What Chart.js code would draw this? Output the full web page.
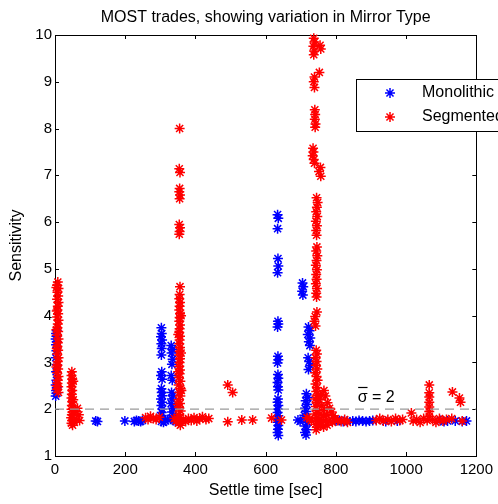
<!DOCTYPE html>
<html>
<head>
<meta charset="utf-8">
<script src="https://cdn.jsdelivr.net/npm/chart.js@4/dist/chart.umd.min.js"></script>
<style>
  html, body { margin: 0; padding: 0; background: #fff; }
  canvas { display: block; }
</style>
</head>
<body>
<canvas id="c" width="498" height="504"></canvas>
<script>
// Settle time [sec] vs. sensitivity for each MOST trade, split by mirror type.
const seriesNames = ['Monolithic', 'Segmented'];

const monolithicTrades = [
  [2,2.28],[4,2.34],[3,2.40],[5,2.46],[2,2.52],[4,2.62],[3,2.80],[5,2.95],[2,3.10],[4,3.25],
  [3,3.38],[5,3.44],[2,3.50],[4,3.56],[3,3.62],[5,3.68],
  [116,1.75],[121,1.74],
  [199,1.75],[226,1.74],[232,1.76],[238,1.75],[244,1.74],[249,1.76],
  [303,3.74],[304,3.62],[302,3.55],[305,3.48],[303,3.40],[304,3.30],[303,3.16],[304,2.80],[302,2.72],[305,2.64],
  [303,2.44],[304,2.36],[306,2.29],[302,2.22],[305,2.15],[303,2.08],[306,2.00],[304,1.93],[302,1.86],[307,1.80],
  [303,1.74],[309,1.72],[315,1.75],[320,1.78],
  [331,3.36],[334,3.28],[332,3.20],[335,3.07],[333,2.96],[331,2.72],[334,2.62],[332,2.36],[336,2.30],[333,2.22],
  [331,2.12],[335,2.02],[333,1.94],[336,1.86],[332,1.80],[338,1.76],[343,1.74],
  [634,6.16],[636,6.08],[634,5.86],[635,5.22],[636,5.06],[634,4.92],[635,3.88],[636,3.82],[634,3.76],[635,3.13],
  [636,3.06],[634,2.99],[635,2.74],[636,2.66],[634,2.57],[635,2.48],[636,2.41],[635,2.22],[634,2.15],[636,2.08],
  [635,2.00],[634,1.93],[636,1.86],[635,1.79],[634,1.72],[636,1.65],[635,1.57],[634,1.50],[636,1.44],
  [692,1.77],[698,1.74],
  [705,4.70],[707,4.62],[704,4.52],[706,4.44],
  [722,3.76],[725,3.68],[720,3.60],[727,3.52],[723,3.44],[726,3.36],[721,3.10],[724,3.02],[727,2.93],[722,2.85],
  [716,2.33],[720,2.25],[714,2.18],[718,2.10],[712,2.02],[716,1.95],[710,1.87],[714,1.80],[719,1.72],[713,1.64],
  [717,1.56],[712,1.50],[715,1.45],
  [800,1.75],[810,1.76],[821,1.74],[832,1.75],
  [848,1.75],[857,1.74],[866,1.76],[876,1.75],[886,1.74],[896,1.75],[905,1.76],
  [942,1.74],[975,1.75],[1098,1.76],[1108,1.74],[1118,1.75],[1140,1.75],[1160,1.74],[1172,1.75]
];

const segmentedTrades = [
  [8,4.72],[6,4.65],[10,4.58],[7,4.50],[9,4.42],[6,4.35],[10,4.28],[8,4.20],[7,4.12],[9,4.04],
  [6,3.97],[10,3.90],[8,3.82],[7,3.74],[9,3.66],[6,3.58],[10,3.50],[8,3.42],[7,3.34],[9,3.26],
  [6,3.18],[10,3.10],[8,3.02],[7,2.94],[9,2.86],[6,2.78],[10,2.70],[8,2.62],[7,2.55],[9,2.48],
  [6,2.42],[10,2.36],[4,4.60],[5,4.10],[4,3.70],[5,3.30],[4,2.90],[5,2.50],
  [48,2.80],[47,2.72],[49,2.64],[48,2.56],[47,2.48],[49,2.40],[48,2.32],[47,2.24],[49,2.16],[48,2.08],
  [47,2.00],[50,1.94],[48,1.88],[46,1.82],[49,1.76],[47,1.70],[50,1.66],[58,1.95],[64,2.02],[68,1.88],
  [62,1.78],[70,1.76],[55,1.72],[52,2.60],[52,2.20],[54,1.90],
  [258,1.82],[265,1.78],[272,1.85],[280,1.80],[288,1.78],[297,1.83],
  [355,8.00],[354,7.14],[356,7.06],[355,6.72],[354,6.65],[356,6.58],[355,6.50],[354,5.95],[356,5.88],[355,5.80],
  [354,5.74],[356,4.62],[355,4.45],[354,4.36],[356,4.28],[355,4.20],[354,4.12],[356,4.04],[355,3.96],[354,3.88],
  [356,3.80],[355,3.72],[354,3.64],[356,3.56],[355,3.48],[354,3.40],[356,3.32],[355,3.24],[354,3.16],[356,3.08],
  [355,3.00],[354,2.92],[356,2.84],[355,2.76],[353,2.68],[357,2.60],[352,2.52],[358,2.44],[354,2.36],[357,2.28],
  [352,2.20],[356,2.12],[353,2.04],[358,1.96],[351,1.88],[356,1.82],[360,1.76],[352,1.70],[357,1.66],[365,1.78],
  [372,1.74],[380,1.80],[388,1.76],[396,1.82],[404,1.75],[412,1.80],[420,1.84],[430,1.78],[438,1.80],[345,1.75],
  [340,1.80],[359,4.00],[351,3.60],[359,3.20],[351,2.80],[360,2.40],[350,2.10],
  [492,2.52],[506,2.36],[492,1.73],[532,1.77],[563,1.77],[617,1.81],[645,1.77],
  [737,9.93],[739,9.85],[736,9.76],[738,9.66],[737,9.58],[755,9.78],[757,9.70],[753,9.20],[739,9.10],[737,9.00],
  [739,8.88],[740,8.40],[741,8.30],[740,8.20],[742,8.10],[741,8.03],[735,7.58],[736,7.50],[734,7.42],[737,7.34],
  [739,7.26],[756,7.17],[752,7.08],[757,6.98],
  [745,6.52],[748,6.42],[746,6.32],[744,6.22],[747,6.12],[743,6.02],[746,5.92],[744,5.82],[745,5.72],[746,5.47],
  [744,5.38],[747,5.28],[745,5.18],[743,5.08],[746,4.98],[744,4.88],[745,4.78],[743,4.68],[746,4.58],[744,4.48],
  [745,4.40],[746,4.08],[741,3.98],[739,3.88],[742,3.78],
  [744,3.26],[746,3.18],[742,3.10],[745,3.02],[743,2.94],[747,2.86],[741,2.78],[745,2.70],[748,2.62],[742,2.54],
  [746,2.46],[744,2.38],[749,2.30],[741,2.22],[746,2.14],[743,2.06],[748,1.98],[741,1.90],[745,1.82],[749,1.74],
  [742,1.68],[747,1.62],[744,1.56],
  [752,2.20],[758,2.30],[766,2.40],[770,2.28],[776,2.14],[760,2.08],[768,2.00],[782,2.02],[788,1.94],[755,1.90],
  [764,1.86],[774,1.88],[792,1.86],[798,1.80],[752,1.78],[760,1.72],[770,1.76],[780,1.74],[790,1.72],[805,1.76],
  [815,1.74],[825,1.78],[833,1.72],[756,1.64],[765,1.62],[775,1.66],[730,1.75],[725,1.80],[718,1.82],
  [915,1.76],[925,1.80],[935,1.75],[948,1.78],[958,1.74],[970,1.80],[982,1.76],[990,1.78],
  [1015,1.92],[1020,1.75],[1030,1.78],[1040,1.72],[1050,1.80],[1060,1.76],[1066,1.85],[1066,1.95],[1066,2.05],
  [1066,2.15],[1066,2.26],[1066,2.35],[1066,2.52],[1075,1.78],[1085,1.72],[1095,1.80],[1105,1.75],[1115,1.78],
  [1130,1.80],[1132,2.37],[1152,2.24],[1155,2.15],[1160,1.75]
];

// Mean sensitivity reference level.
const sigmaBar = 2;

const xTicks = [0, 200, 400, 600, 800, 1000, 1200];
const yTicks = [1, 2, 3, 4, 5, 6, 7, 8, 9, 10];

const FONT = "'Liberation Sans', Arial, Helvetica, sans-serif";
const BLUE = '#0000ff';
const RED = '#ff0000';
const STAR_R = 5;
const STAR_W = 1.5;

const toPoints = arr => arr.map(([x, y]) => ({ x, y }));

function drawStar(ctx, x, y, color) {
  const r = STAR_R, d = r * Math.SQRT1_2;
  ctx.strokeStyle = color;
  ctx.lineWidth = STAR_W;
  ctx.beginPath();
  ctx.moveTo(x - r, y); ctx.lineTo(x + r, y);
  ctx.moveTo(x, y - r); ctx.lineTo(x, y + r);
  ctx.moveTo(x - d, y - d); ctx.lineTo(x + d, y + d);
  ctx.moveTo(x - d, y + d); ctx.lineTo(x + d, y - d);
  ctx.stroke();
}

// Box, inward tick marks and annotations in the MATLAB figure style.
const figureDecor = {
  id: 'figureDecor',
  beforeDatasetsDraw(chart) {
    const { ctx, chartArea: a, scales } = chart;
    ctx.save();
    ctx.strokeStyle = '#000';
    ctx.lineWidth = 1;
    ctx.strokeRect(Math.round(a.left) + 0.5, Math.round(a.top) + 0.5,
                   Math.round(a.right - a.left), Math.round(a.bottom - a.top));
    ctx.beginPath();
    const tl = 4;
    xTicks.forEach(v => {
      const px = Math.round(scales.x.getPixelForValue(v)) + 0.5;
      ctx.moveTo(px, a.bottom); ctx.lineTo(px, a.bottom - tl);
      ctx.moveTo(px, a.top); ctx.lineTo(px, a.top + tl);
    });
    yTicks.forEach(v => {
      const py = Math.round(scales.y.getPixelForValue(v)) + 0.5;
      ctx.moveTo(a.left, py); ctx.lineTo(a.left + tl, py);
      ctx.moveTo(a.right, py); ctx.lineTo(a.right - tl, py);
    });
    ctx.stroke();
    ctx.restore();
  },
  afterDraw(chart) {
    const { ctx, chartArea: a, scales } = chart;
    ctx.save();
    ctx.fillStyle = '#000';
    ctx.textAlign = 'center';
    ctx.textBaseline = 'middle';

    // Title
    ctx.font = `16px ${FONT}`;
    ctx.fillText('MOST trades, showing variation in Mirror Type', (a.left + a.right) / 2, 18);

    // Axis titles
    ctx.fillText('Settle time [sec]', (a.left + a.right) / 2, 491);
    ctx.save();
    ctx.translate(17, (a.top + a.bottom) / 2);
    ctx.rotate(-Math.PI / 2);
    ctx.fillText('Sensitivity', 0, 0);
    ctx.restore();

    // Mean-level label
    const lx = scales.x.getPixelForValue(862);
    const ly = scales.y.getPixelForValue(sigmaBar + 0.24);
    ctx.font = `16px ${FONT}`;
    ctx.textAlign = 'left';
    ctx.fillText('\u03c3 = ' + sigmaBar, lx, ly);
    const sw = ctx.measureText('\u03c3').width;
    ctx.beginPath();
    ctx.strokeStyle = '#000';
    ctx.lineWidth = 1.2;
    ctx.moveTo(lx + 0.5, ly - 10.5);
    ctx.lineTo(lx + sw, ly - 10.5);
    ctx.stroke();

    // Legend box
    const bx = 356.5, by = 79.5, bw = 200, bh = 52;
    ctx.fillStyle = '#fff';
    ctx.fillRect(bx, by, bw, bh);
    ctx.strokeStyle = '#000';
    ctx.lineWidth = 1;
    ctx.strokeRect(bx, by, bw, bh);
    const colors = [BLUE, RED];
    seriesNames.forEach((name, i) => {
      const cy = 93 + i * 24;
      drawStar(ctx, 390, cy, colors[i]);
      ctx.fillStyle = '#000';
      ctx.font = `16px ${FONT}`;
      ctx.textAlign = 'left';
      ctx.fillText(name, 422, cy);
    });
    ctx.restore();
  }
};

const starStyle = color => ({
  pointStyle: 'star',
  pointRadius: STAR_R,
  pointBorderWidth: STAR_W,
  pointBorderColor: color,
  pointBackgroundColor: color,
  borderColor: color,
  backgroundColor: color,
  showLine: false,
  clip: 8
});

const tickFont = { family: FONT, size: 15 };

new Chart(document.getElementById('c'), {
  type: 'scatter',
  data: {
    datasets: [
      {
        label: 'mean',
        type: 'line',
        data: [{ x: 0, y: sigmaBar }, { x: 1200, y: sigmaBar }],
        borderColor: '#9a9a9a',
        borderWidth: 1.3,
        borderDash: [9, 6],
        pointRadius: 0,
        showLine: true,
        fill: false,
        order: 0
      },
      Object.assign({ label: seriesNames[1], data: toPoints(segmentedTrades), order: 1 }, starStyle(RED)),
      Object.assign({ label: seriesNames[0], data: toPoints(monolithicTrades), order: 2 }, starStyle(BLUE))
    ]
  },
  options: {
    responsive: false,
    animation: false,
    events: [],
    layout: { padding: { top: 35, right: 21, left: 0, bottom: 0 } },
    plugins: {
      legend: { display: false },
      title: { display: false },
      tooltip: { enabled: false }
    },
    scales: {
      x: {
        type: 'linear',
        min: 0, max: 1200,
        afterFit(s) { s.height = 48; },
        afterBuildTicks(s) { s.ticks = xTicks.map(v => ({ value: v })); },
        grid: { display: false, drawTicks: false, tickLength: 0 },
        border: { display: false },
        ticks: { padding: 5, color: '#000', font: tickFont, maxRotation: 0, autoSkip: false,
                 callback: v => String(v) }
      },
      y: {
        type: 'linear',
        min: 1, max: 10,
        afterFit(s) { s.width = 55; },
        afterBuildTicks(s) { s.ticks = yTicks.map(v => ({ value: v })); },
        grid: { display: false, drawTicks: false, tickLength: 0 },
        border: { display: false },
        ticks: { padding: 3, color: '#000', font: tickFont, autoSkip: false,
                 callback: v => String(v) }
      }
    }
  },
  plugins: [figureDecor]
});
</script>
</body>
</html>
